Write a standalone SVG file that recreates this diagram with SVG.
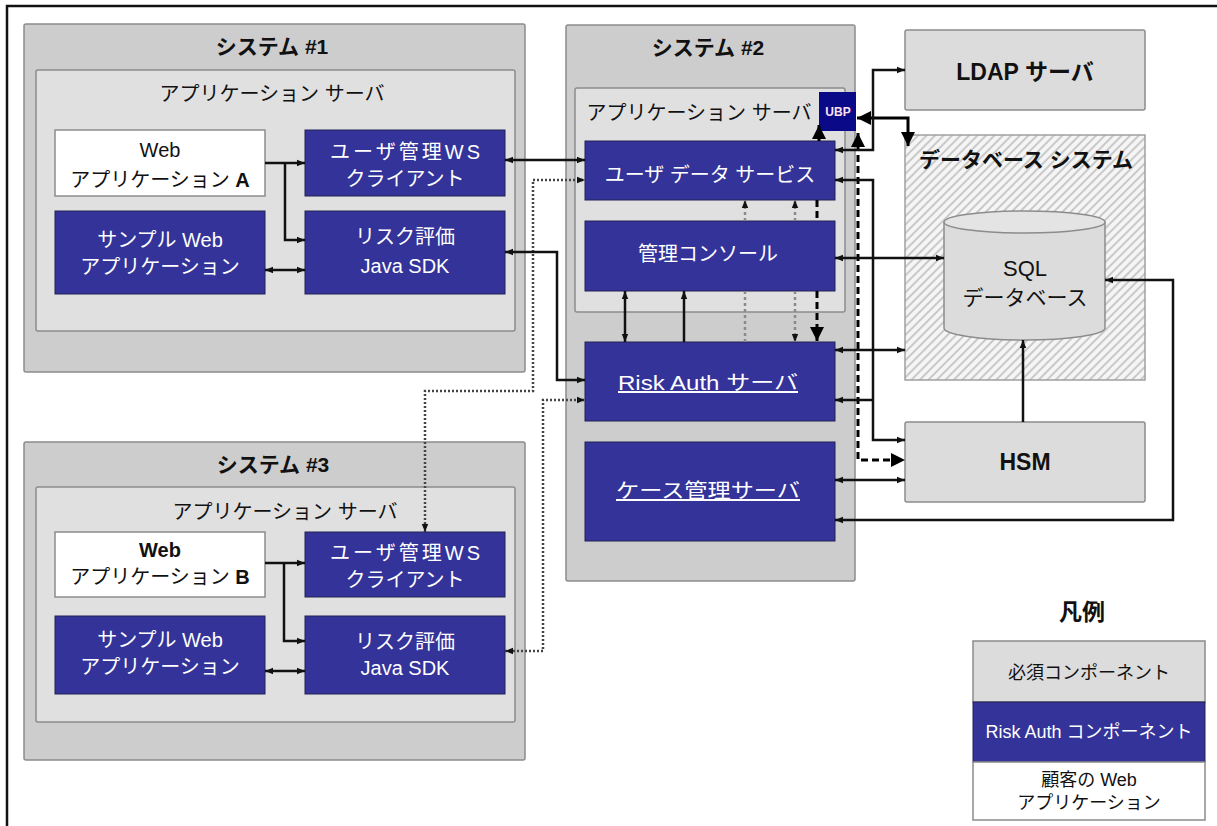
<svg xmlns="http://www.w3.org/2000/svg" width="1217" height="826" viewBox="0 0 1217 826">
<style>
text{font-family:"Liberation Sans","Noto Sans CJK JP",sans-serif;text-anchor:middle}
.sys{fill:#cdcdcd;stroke:#8c8c8c;stroke-width:1.5}
.app{fill:#e0e0e0;stroke:#8c8c8c;stroke-width:1.5}
.blue{fill:#333399;stroke:#222255;stroke-width:1}
.web{fill:#ffffff;stroke:#8c8c8c;stroke-width:1.5}
.lg{fill:#dcdcdc;stroke:#8c8c8c;stroke-width:1.5}
.t{font-size:20px;fill:#111}
.tw{font-size:20px;fill:#ffffff}
.tb{font-size:21px;font-weight:bold;fill:#111}
.ln{fill:none;stroke:#111;stroke-width:2.5}
.thk{fill:none;stroke:#000;stroke-width:3}
.dot{fill:none;stroke:#444;stroke-width:2.5;stroke-dasharray:2 2}
.gdot{fill:none;stroke:#8a8a8a;stroke-width:2.5;stroke-dasharray:3 3}
.dash{fill:none;stroke:#000;stroke-width:3;stroke-dasharray:7 4}
</style>
<defs>
<marker id="a" viewBox="0 0 10 10" refX="10" refY="5" markerWidth="8" markerHeight="8" markerUnits="userSpaceOnUse" orient="auto-start-reverse"><path d="M0,1 L10,5 L0,9 z" fill="#111"/></marker>
<marker id="b" viewBox="0 0 10 10" refX="10" refY="5" markerWidth="14" markerHeight="14" markerUnits="userSpaceOnUse" orient="auto-start-reverse"><path d="M0,0 L10,5 L0,10 z" fill="#000"/></marker>
<pattern id="hatch" width="6" height="6" patternUnits="userSpaceOnUse" patternTransform="rotate(45)"><rect width="6" height="6" fill="#f5f5f5"/><line x1="1" y1="0" x2="1" y2="6" stroke="#bbbbbb" stroke-width="1.5"/></pattern>
</defs>
<rect x="0" y="0" width="1217" height="826" fill="#ffffff"/>
<rect x="7" y="6" width="1240" height="850" fill="#ffffff" stroke="#111" stroke-width="2.5"/>

<!-- System 1 -->
<g id="system1">
<rect class="sys" x="24" y="24" width="501" height="348" rx="2"/>
<text class="tb" x="272" y="54">システム #1</text>
<rect class="app" x="36" y="70" width="479" height="261" rx="2"/>
<text class="t" x="272" y="101">アプリケーション サーバ</text>
</g>
<g id="webappA"><rect class="web" x="55" y="130" width="210" height="66"/>
<text class="t" x="160" y="157">Web</text>
<text class="t" x="160" y="187">アプリケーション <tspan font-weight="bold">A</tspan></text></g>
<g id="wsclient1"><rect class="blue" x="305" y="130" width="200" height="66"/>
<text class="tw" x="405" y="159" textLength="150" lengthAdjust="spacing">ユーザ管理WS</text>
<text class="tw" x="405" y="186">クライアント</text></g>
<g id="sample1"><rect class="blue" x="55" y="211" width="210" height="83"/>
<text class="tw" x="160" y="247">サンプル Web</text>
<text class="tw" x="160" y="274">アプリケーション</text></g>
<g id="risk1"><rect class="blue" x="305" y="211" width="200" height="83"/>
<text class="tw" x="405" y="244">リスク評価</text>
<text class="tw" x="405" y="273">Java SDK</text></g>

<!-- System 3 -->
<g id="system3">
<rect class="sys" x="24" y="442" width="501" height="318" rx="2"/>
<text class="tb" x="273" y="472">システム #3</text>
<rect class="app" x="36" y="487" width="479" height="235" rx="2"/>
<text class="t" x="285" y="519">アプリケーション サーバ</text>
</g>
<g id="webappB"><rect class="web" x="55" y="532" width="210" height="65"/>
<text class="t" x="160" y="557" font-weight="bold">Web</text>
<text class="t" x="160" y="584">アプリケーション <tspan font-weight="bold">B</tspan></text></g>
<g id="wsclient3"><rect class="blue" x="305" y="532" width="200" height="65"/>
<text class="tw" x="405" y="560" textLength="150" lengthAdjust="spacing">ユーザ管理WS</text>
<text class="tw" x="405" y="587">クライアント</text></g>
<g id="sample3"><rect class="blue" x="55" y="616" width="210" height="78"/>
<text class="tw" x="160" y="647">サンプル Web</text>
<text class="tw" x="160" y="674">アプリケーション</text></g>
<g id="risk3"><rect class="blue" x="305" y="616" width="200" height="78"/>
<text class="tw" x="405" y="649">リスク評価</text>
<text class="tw" x="405" y="675">Java SDK</text></g>

<!-- System 2 -->
<g id="system2">
<rect class="sys" x="566" y="25" width="289" height="556" rx="2"/>
<text class="tb" x="708" y="55">システム #2</text>
<rect class="app" x="575" y="88" width="270" height="224" rx="2"/>
<text class="t" x="699" y="120">アプリケーション サーバ</text>
</g>
<g id="ubp"><rect x="819" y="92" width="37" height="39" fill="#0a0a88"/>
<text x="838" y="116" font-size="12" font-weight="bold" fill="#ffe0ee">UBP</text></g>
<g id="userdata"><rect class="blue" x="585" y="141" width="250" height="59"/>
<text class="tw" x="710" y="182" font-size="21">ユーザ データ サービス</text></g>
<g id="console"><rect class="blue" x="585" y="221" width="250" height="70"/>
<text class="tw" x="708" y="261" font-size="22">管理コンソール</text></g>
<g id="riskauth"><rect class="blue" x="585" y="342" width="250" height="79"/>
<text class="tw" x="708" y="390" font-size="22" text-decoration="underline" textLength="180" lengthAdjust="spacingAndGlyphs">Risk Auth サーバ</text></g>
<g id="casemgmt"><rect class="blue" x="585" y="442" width="250" height="99"/>
<text class="tw" x="708" y="498" font-size="22" text-decoration="underline" textLength="184" lengthAdjust="spacingAndGlyphs">ケース管理サーバ</text></g>

<!-- Right side -->
<g id="ldap"><rect class="lg" x="905" y="30" width="240" height="80" rx="2"/>
<text x="1025" y="80" font-size="23" font-weight="bold" fill="#111">LDAP サーバ</text></g>
<g id="dbsystem"><rect x="905" y="135" width="240" height="245" fill="url(#hatch)" stroke="#a0a0a0" stroke-width="1.5"/>
<text x="1026" y="167" font-size="21" font-weight="bold" fill="#111">データベース システム</text></g>
<g id="sqldb">
<path d="M944,222 V328 A80.5,12 0 0 0 1105,328 V222" fill="#dcdcdc" stroke="#8c8c8c" stroke-width="1.5"/>
<ellipse cx="1024.5" cy="222" rx="80.5" ry="11" fill="#e4e4e4" stroke="#8c8c8c" stroke-width="1.5"/>
<text x="1025" y="276" font-size="22" fill="#111">SQL</text>
<text x="1025" y="305" font-size="21" fill="#111">データベース</text></g>
<g id="hsm"><rect class="lg" x="905" y="422" width="240" height="80" rx="2"/>
<text x="1025" y="470" font-size="23" font-weight="bold" fill="#111">HSM</text></g>

<!-- Legend -->
<g id="legend">
<text x="1082" y="620" font-size="23" font-weight="bold" fill="#111">凡例</text>
<rect x="973" y="641" width="232" height="61" fill="#dcdcdc" stroke="#8c8c8c" stroke-width="1.5"/>
<rect x="973" y="702" width="232" height="60" fill="#333399" stroke="#222255" stroke-width="1"/>
<rect x="973" y="762" width="232" height="58" fill="#ffffff" stroke="#8c8c8c" stroke-width="1.5"/>
<text x="1089" y="679" font-size="18" fill="#111">必須コンポーネント</text>
<text x="1089" y="738" font-size="18" fill="#ffffff">Risk Auth コンポーネント</text>
<text x="1089" y="786" font-size="18" fill="#111">顧客の Web</text>
<text x="1089" y="809" font-size="18" fill="#111">アプリケーション</text>
</g>

<!-- Connectors -->
<g id="connectors">
<path class="ln" d="M265,163 H305" marker-end="url(#a)"/>
<path class="ln" d="M285,163 V240 H305" marker-end="url(#a)"/>
<path class="ln" d="M265,270 H305" marker-start="url(#a)" marker-end="url(#a)"/>
<path class="ln" d="M265,563 H305" marker-end="url(#a)"/>
<path class="ln" d="M284,563 V641 H305" marker-end="url(#a)"/>
<path class="ln" d="M265,671 H305" marker-start="url(#a)" marker-end="url(#a)"/>

<path class="ln" d="M505,160 H585" marker-start="url(#a)" marker-end="url(#a)"/>
<path class="dot" d="M425,532 V391 H533 V180 H585" marker-start="url(#a)" marker-end="url(#a)"/>
<path class="ln" d="M505,252 H557 V380 H585" marker-start="url(#a)" marker-end="url(#a)"/>
<path class="dot" d="M505,651 H543 V400 H585" marker-start="url(#a)" marker-end="url(#a)"/>

<path class="ln" d="M625,291 V342" marker-start="url(#a)" marker-end="url(#a)"/>
<path class="ln" d="M684,342 V291" marker-end="url(#a)"/>
<path class="gdot" d="M745,221 V200" marker-end="url(#a)"/>
<path class="gdot" d="M745,342 V291"/>
<path class="gdot" d="M795,221 V200" marker-end="url(#a)"/>
<path class="gdot" d="M795,291 V342" marker-end="url(#a)"/>
<path class="dash" d="M817,200 V221"/>
<path class="dash" d="M817,291 V341" marker-end="url(#b)"/>
<path class="thk" d="M819,141 V125" marker-end="url(#b)"/>
<path class="dash" d="M858,133 V460 H905" marker-start="url(#b)" marker-end="url(#b)"/>
<path class="thk" d="M857,118 H908 V146" marker-start="url(#b)" marker-end="url(#b)"/>

<path class="ln" d="M835,150 H873 V70 H905" marker-start="url(#a)" marker-end="url(#a)"/>
<path class="ln" d="M835,180 H873 V440 H905" marker-start="url(#a)" marker-end="url(#a)"/>
<path class="ln" d="M873,400 H835" marker-end="url(#a)"/>
<path class="ln" d="M835,258 H944" marker-start="url(#a)" marker-end="url(#a)"/>
<path class="ln" d="M835,350 H905" marker-start="url(#a)" marker-end="url(#a)"/>
<path class="ln" d="M835,480 H905" marker-start="url(#a)" marker-end="url(#a)"/>
<path class="ln" d="M835,520 H1173 V280 H1105" marker-start="url(#a)" marker-end="url(#a)"/>
<path class="ln" d="M1023,422 V340" marker-end="url(#a)"/>
</g>
</svg>
